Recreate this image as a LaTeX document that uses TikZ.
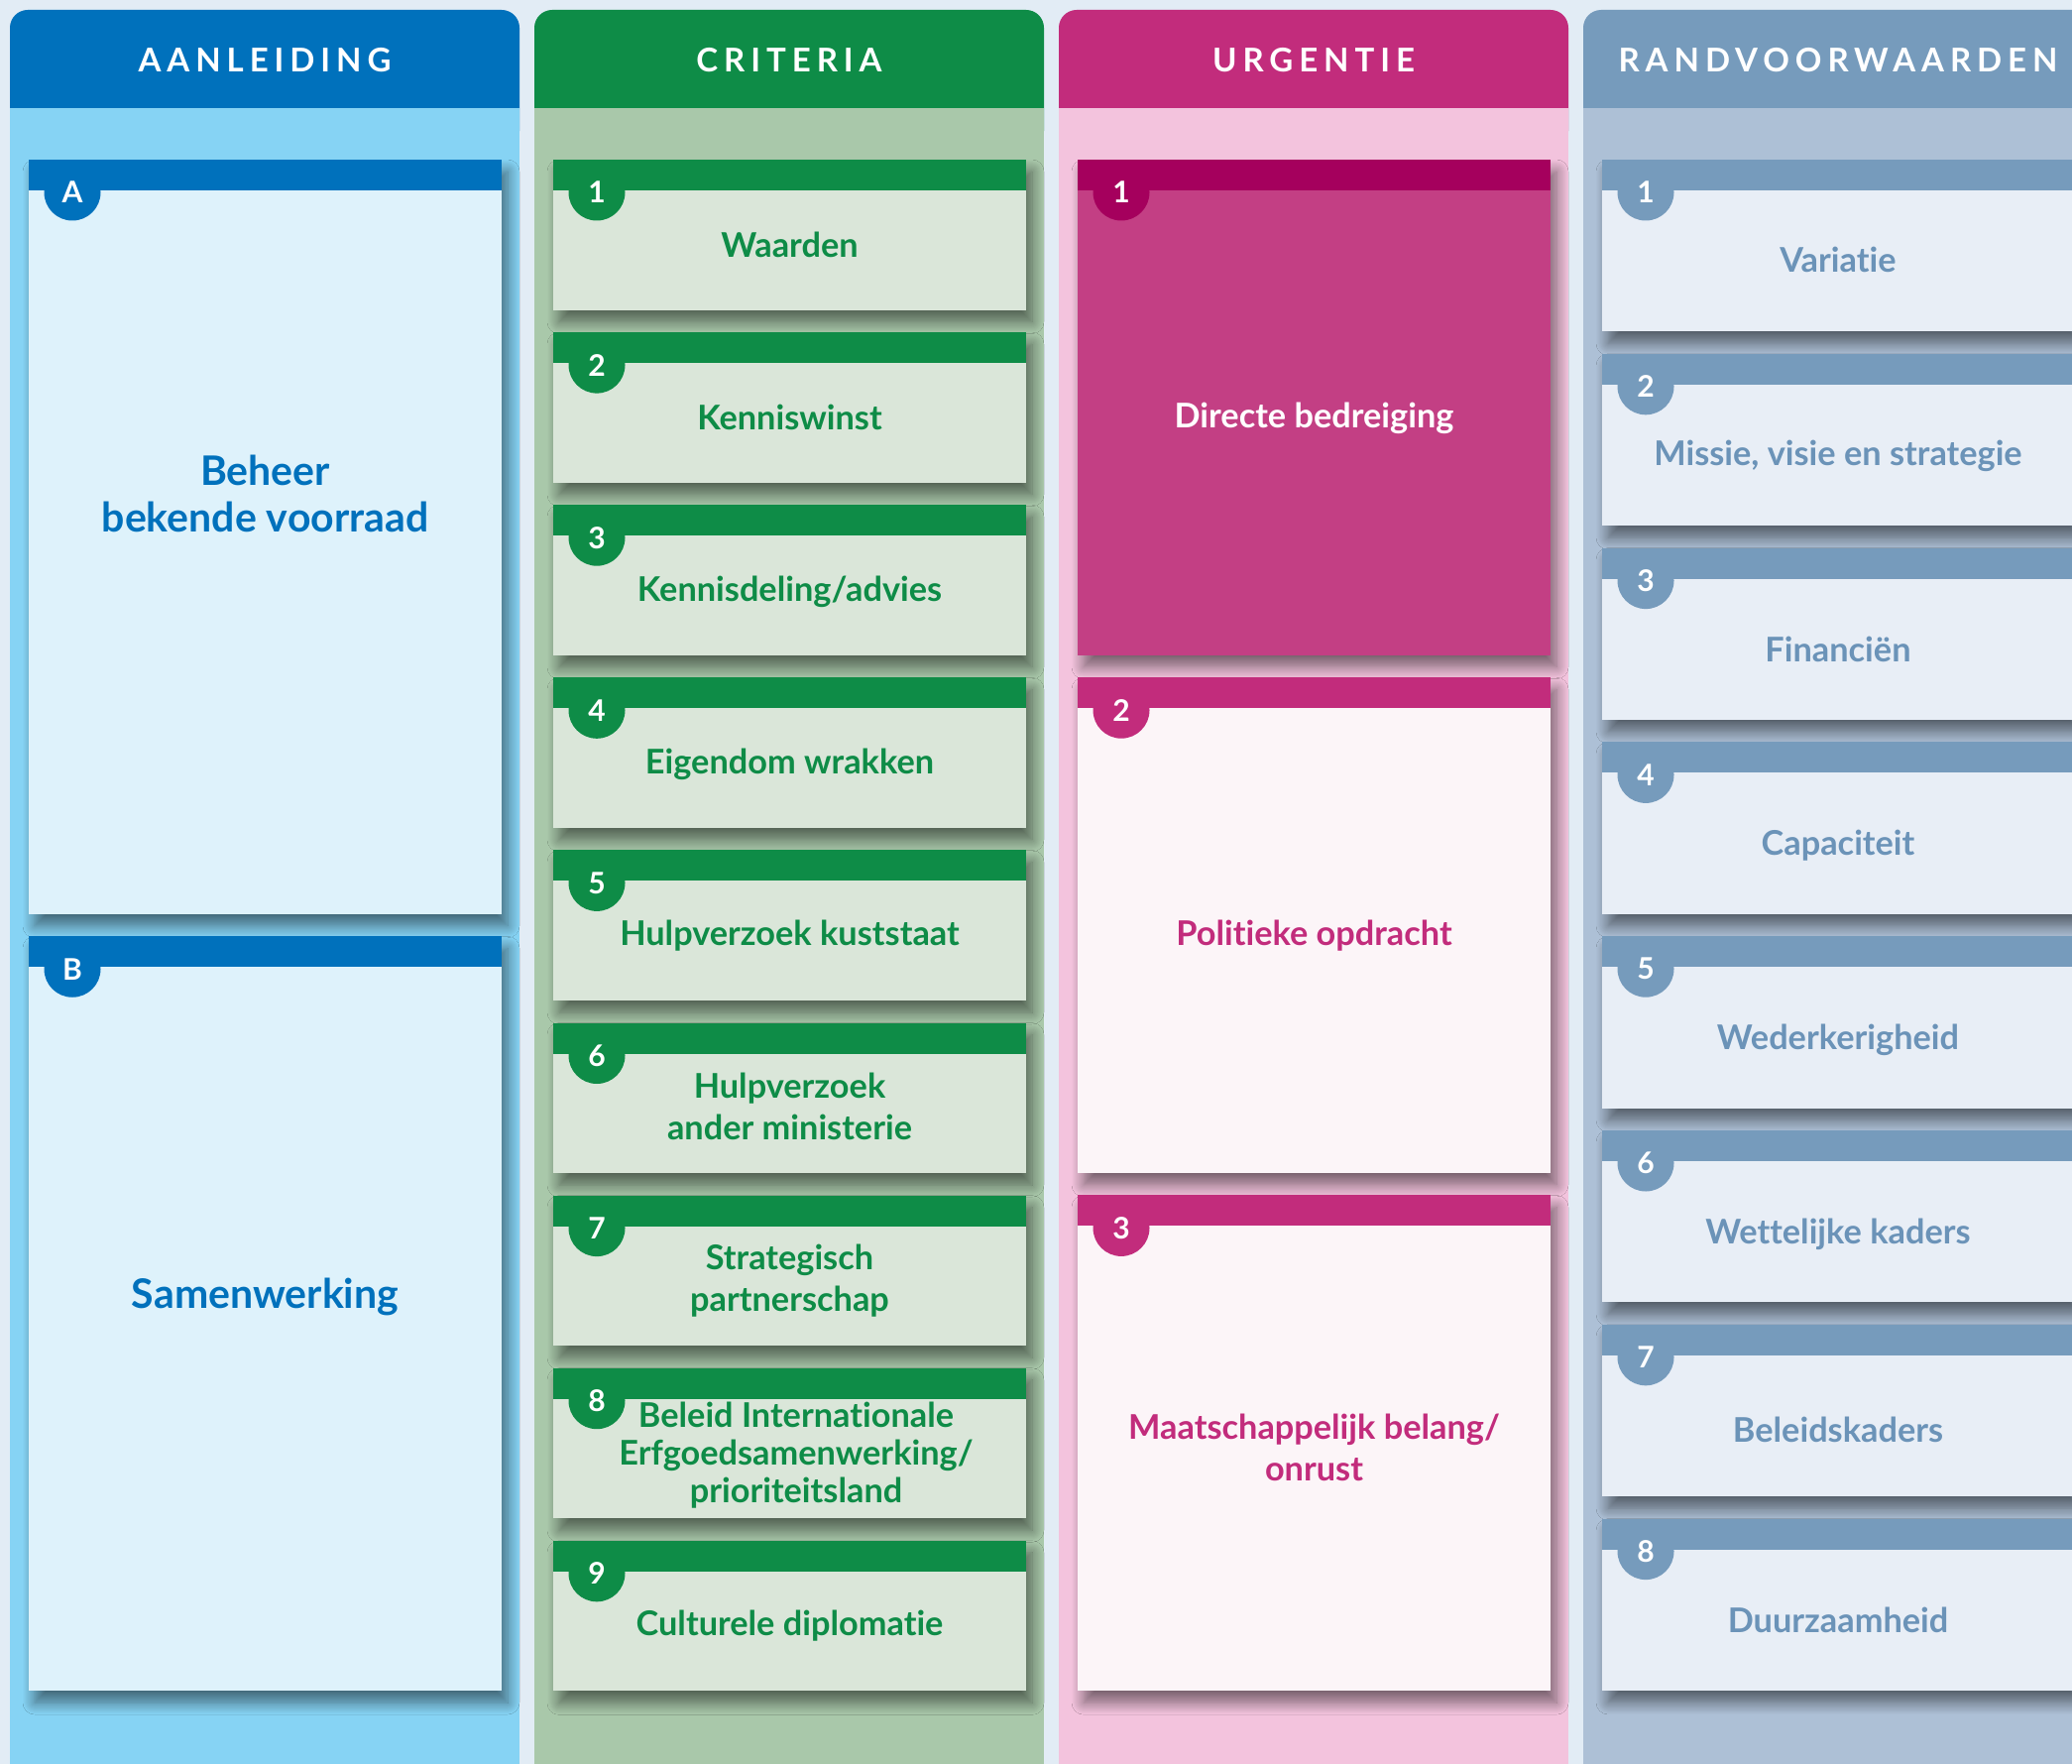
\documentclass[tikz,border=0pt]{standalone}
\usepackage{fontspec}
\setmainfont{Lato}[Ligatures=CommonOff]
\usetikzlibrary{shadows.blur}
\definecolor{bg}{HTML}{E2ECF5}
\definecolor{aHead}{HTML}{0071BC}
\definecolor{aBody}{HTML}{86D3F4}
\definecolor{aCard}{HTML}{DEF2FB}
\definecolor{cHead}{HTML}{0E8C47}
\definecolor{cBody}{HTML}{A9C8AA}
\definecolor{cCard}{HTML}{DAE6D9}
\definecolor{uHead}{HTML}{C22C7C}
\definecolor{uBody}{HTML}{F3C3DD}
\definecolor{uCard}{HTML}{FCF5F8}
\definecolor{uStrong}{HTML}{C33F84}
\definecolor{uDark}{HTML}{A5005D}
\definecolor{rHead}{HTML}{769BBC}
\definecolor{rBody}{HTML}{ADC0D6}
\definecolor{rCard}{HTML}{E8EEF6}
\definecolor{rText}{HTML}{6B93B8}
\begin{document}
\begin{tikzpicture}[x=1pt,y=1pt,
  card/.style={anchor=north west, inner sep=0pt, outer sep=0pt, minimum width=477pt,
    blur shadow={shadow xshift=6pt, shadow yshift=-12pt, shadow blur radius=12pt, shadow opacity=50, shadow blur steps=12}},
  badge/.style={circle, inner sep=0pt, minimum size=57pt, text=white,
    font=\bfseries\fontsize{30}{30}\selectfont},
  lbl/.style={align=center, inner sep=0pt, font=\bfseries\fontsize{34.3}{42}\selectfont},
  biglbl/.style={align=center, inner sep=0pt, font=\bfseries\fontsize{41}{47}\selectfont},
  hdrtxt/.style={text=white, inner sep=0pt,
    font=\bfseries\fontsize{33}{40}\selectfont\addfontfeature{LetterSpace=18}}
]
\useasboundingbox (0,0) rectangle (2090,-1779);
\clip (0,0) rectangle (2090,-1779);
\fill[bg] (0,0) rectangle (2090,-1779);

% column backgrounds and headers
\fill[aHead, rounded corners=18pt] (10,-10) rectangle (524,-150);
\fill[aBody] (10,-109) rectangle (524,-1800);
\fill[cHead, rounded corners=18pt] (539,-10) rectangle (1053,-150);
\fill[cBody] (539,-109) rectangle (1053,-1800);
\fill[uHead, rounded corners=18pt] (1068,-10) rectangle (1582,-150);
\fill[uBody] (1068,-109) rectangle (1582,-1800);
\fill[rHead, rounded corners=18pt] (1597,-10) rectangle (2111,-150);
\fill[rBody] (1597,-109) rectangle (2111,-1800);

\node[hdrtxt] (h1) at (267,-61) {AANLEIDING};
\node[hdrtxt] (h2) at (796,-61) {CRITERIA};
\node[hdrtxt] (h3) at (1325,-61) {URGENTIE};
\node[hdrtxt] (h4) at (1854,-61) {RANDVOORWAARDEN};

% column 1 cards
\foreach \i/\L in {0/A,1/B} {
  \pgfmathsetmacro\ty{161+\i*783.25}
  \node[card, fill=aCard, minimum height=760.75pt] (a\i) at (29,-\ty) {};
  \fill[aHead] (a\i.north west) rectangle ([yshift=-31pt]a\i.north east);
  \node[badge, fill=aHead] (ab\i) at ([xshift=44pt,yshift=-33pt]a\i.north west) {\L};
}
\node[biglbl, text=aHead] (ta0) at (267.5,-498) {Beheer\\bekende voorraad};
\node[biglbl, text=aHead] (ta1) at (267.5,-1308) {Samenwerking};

% column 2 cards
\foreach \i in {0,...,8} {
  \pgfmathsetmacro\ty{161+\i*174.1}
  \pgfmathtruncatemacro\n{\i+1}
  \node[card, fill=cCard, minimum height=151.6pt] (c\i) at (558,-\ty) {};
  \fill[cHead] (c\i.north west) rectangle ([yshift=-31pt]c\i.north east);
  \node[badge, fill=cHead] (cb\i) at ([xshift=44pt,yshift=-33pt]c\i.north west) {\n};
}
\begin{scope}[every node/.style={lbl, text=cHead}]
\node (tc0) at (796.5,-247) {Waarden};
\node (tc1) at (796.5,-421) {Kenniswinst};
\node (tc2) at (796.5,-597) {Kennisdeling/advies};
\node (tc3) at (796.5,-771) {Eigendom wrakken};
\node (tc4) at (796.5,-944) {Hulpverzoek kuststaat};
\node (tc5) at (796.5,-1116) {Hulpverzoek\\ander ministerie};
\node (tc6) at (796.5,-1292) {Strategisch\\partnerschap};
\node[font=\bfseries\fontsize{34.3}{38}\selectfont] (tc7) at (803,-1468) {Beleid Internationale\\Erfgoedsamenwerking/\\prioriteitsland};
\node (tc8) at (796.5,-1640) {Culturele diplomatie};
\end{scope}

% column 3 cards
\node[card, fill=uStrong, minimum height=499.7pt] (u0) at (1087,-161) {};
\fill[uDark] (u0.north west) rectangle ([yshift=-31pt]u0.north east);
\node[badge, fill=uDark] (ub0) at ([xshift=44pt,yshift=-33pt]u0.north west) {1};
\foreach \i in {1,2} {
  \pgfmathsetmacro\ty{161+\i*522.2}
  \pgfmathtruncatemacro\n{\i+1}
  \node[card, fill=uCard, minimum height=499.7pt] (u\i) at (1087,-\ty) {};
  \fill[uHead] (u\i.north west) rectangle ([yshift=-31pt]u\i.north east);
  \node[badge, fill=uHead] (ub\i) at ([xshift=44pt,yshift=-33pt]u\i.north west) {\n};
}
\node[lbl, text=white] (tu0) at (1325.5,-422) {Directe bedreiging};
\node[lbl, text=uHead] (tu1) at (1325.5,-944) {Politieke opdracht};
\node[lbl, text=uHead] (tu2) at (1325.5,-1460) {Maatschappelijk belang/\\onrust};

% column 4 cards
\foreach \i in {0,...,7} {
  \pgfmathsetmacro\ty{161+\i*195.8}
  \pgfmathtruncatemacro\n{\i+1}
  \node[card, fill=rCard, minimum height=173.3pt] (r\i) at (1616,-\ty) {};
  \fill[rHead] (r\i.north west) rectangle ([yshift=-31pt]r\i.north east);
  \node[badge, fill=rHead] (rb\i) at ([xshift=44pt,yshift=-33pt]r\i.north west) {\n};
}
\begin{scope}[every node/.style={lbl, text=rText}]
\node (tr0) at (1854,-262) {Variatie};
\node (tr1) at (1854,-460) {Missie, visie en strategie};
\node (tr2) at (1854,-655) {Financiën};
\node (tr3) at (1854,-853) {Capaciteit};
\node (tr4) at (1854,-1049) {Wederkerigheid};
\node (tr5) at (1854,-1245) {Wettelijke kaders};
\node (tr6) at (1854,-1442) {Beleidskaders};
\node (tr7) at (1854,-1634) {Duurzaamheid};
\end{scope}
\end{tikzpicture}
\end{document}
